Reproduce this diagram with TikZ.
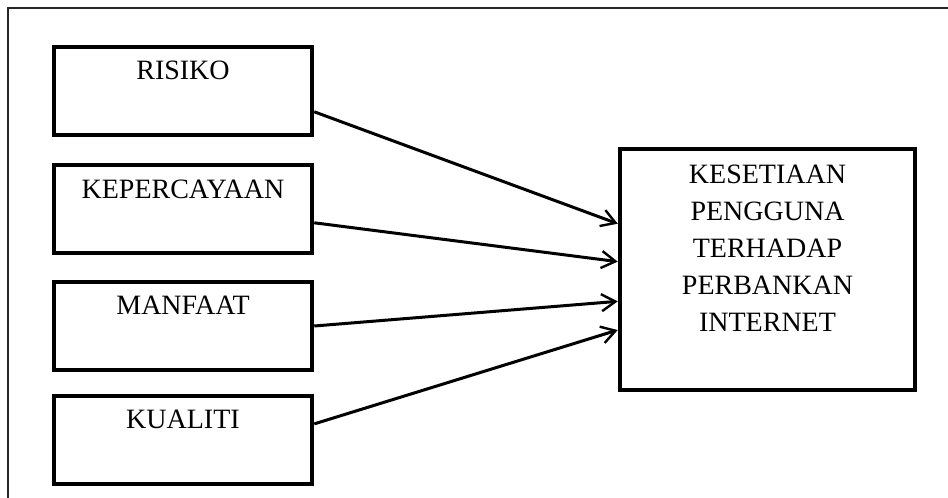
\documentclass[tikz,border=0pt]{standalone}
\usepackage{fontspec}
\setmainfont{Liberation Serif}
\usetikzlibrary{arrows.meta,calc}
\begin{document}
\begin{tikzpicture}[x=1pt,y=-1pt,
  box/.style={draw=black,line width=4.5pt,minimum width=258pt,minimum height=88pt,inner sep=0pt},
  bigbox/.style={draw=black,line width=4.5pt,minimum width=295pt,minimum height=241pt,inner sep=0pt},
  lbl/.style={font=\fontsize{28}{37}\selectfont,inner sep=0pt,align=center,text=black},
  conn/.style={line width=3pt,-{Straight Barb[length=14pt,width=17pt,line width=2.4pt]}},
  frame/.style={line width=1.5pt,draw=black!85}]
\useasboundingbox (0,0) rectangle (948,498);
\draw[frame] (8,498) -- (8,8) -- (948,8);
\node[box] (b1) at (183,91) {};
\node[box] (b2) at (183,209) {};
\node[box] (b3) at (183,326) {};
\node[box] (b4) at (183,440) {};
\node[bigbox] (r) at (767.5,269.5) {};
\node[lbl] (t1) at ($(b1.north)+(0,26)$) {RISIKO};
\node[lbl] (t2) at ($(b2.north)+(0,27)$) {KEPERCAYAAN};
\node[lbl] (t3) at ($(b3.north)+(0,26)$) {MANFAAT};
\node[lbl] (t4) at ($(b4.north)+(0,26)$) {KUALITI};
\node[lbl] (tr) at ($(r.center)+(0,-21)$) {KESETIAAN\\PENGGUNA\\TERHADAP\\PERBANKAN\\INTERNET};
\draw[conn] (b1.-9.7) -- (r.163.9);
\draw[conn] (b2.-6.6) -- (r.177.9);
\draw[conn] (b3.0) -- (r.192.4);
\draw[conn] (b4.7.9) -- (r.202.3);
\end{tikzpicture}
\end{document}
